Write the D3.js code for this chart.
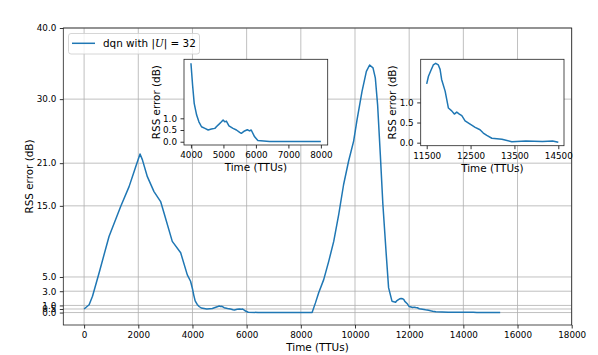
<!DOCTYPE html>
<html>
<head>
<meta charset="utf-8">
<script src="https://cdn.jsdelivr.net/npm/d3@7"></script>
<style>
body { margin: 0; background: #fff; }
text { font-family: "DejaVu Sans", sans-serif; fill: #000; }
</style>
</head>
<body>
<script>
// RSS error over time, one run of dqn with |U| = 32
var times = [0, 185, 310, 555, 920, 1350, 1660, 1905, 2065, 2150, 2335, 2580, 2825, 2950, 3255, 3565, 3810, 3930,
  4000, 4050, 4100, 4175, 4245, 4325, 4430, 4530, 4630, 4735, 4835, 4940, 4990, 5040, 5090, 5170, 5295, 5400,
  5500, 5550, 5650, 5735, 5805, 5855, 5960, 6060, 6420, 7000, 8000, 8417, 8540, 8660, 8845, 9030, 9215, 9400,
  9580, 9765, 9950, 10075, 10260, 10420, 10540, 10665, 10750, 10835, 10935, 11030, 11155, 11240, 11365, 11500,
  11540, 11590, 11650, 11705, 11765, 11805, 11840, 11920, 11995, 12070, 12130, 12185, 12245, 12300, 12375, 12490,
  12605, 12715, 12790, 12870, 12985, 13215, 13440, 13760, 14140, 14370, 14500, 15360];
var rss = [0.5, 1.1, 2.3, 5.6, 10.7, 14.9, 17.7, 20.5, 22.3, 21.5, 19.1, 17.0, 15.6, 14.0, 10.0, 8.4, 5.3, 4.4,
  3.35, 2.42, 1.64, 1.14, 0.85, 0.64, 0.57, 0.50, 0.54, 0.57, 0.71, 0.85, 0.93, 0.85, 0.88, 0.68, 0.57, 0.50,
  0.40, 0.36, 0.46, 0.51, 0.46, 0.50, 0.21, 0.05, 0.01, 0.01, 0.01, 0.02, 1.36, 2.77, 4.63, 7.2, 10.0, 13.8,
  18.0, 21.3, 24.1, 27.1, 31.1, 33.9, 34.8, 34.4, 33.0, 29.2, 22.2, 15.2, 8.1, 3.5, 1.6, 1.46,
  1.65, 1.78, 1.93, 1.97, 1.93, 1.82, 1.57, 1.28, 0.86, 0.79, 0.71, 0.76, 0.71, 0.67, 0.54, 0.46,
  0.38, 0.32, 0.24, 0.18, 0.11, 0.085, 0.025, 0.04, 0.03, 0.04, 0.01, 0.01];
var xTicks = [0, 2000, 4000, 6000, 8000, 10000, 12000, 14000, 16000, 18000];
var yTicks = [0.0, 0.5, 1.0, 3.0, 5.0, 15.0, 21.0, 30.0, 40.0];
var inset1Ticks = [4000, 5000, 6000, 7000, 8000];
var inset2Ticks = [11500, 12500, 13500, 14500];
var insetYTicks = [0.0, 0.5, 1.0];

var data = times.map(function(t, i) { return {t: t, v: rss[i]}; });
var blue = "#1f77b4";

var svg = d3.select("body").append("svg")
  .attr("width", 598)
  .attr("height", 355);

function drawAxes(box, xDomain, yDomain, xt, yt, grid) {
  var x = d3.scaleLinear().domain(xDomain).range([box.x0, box.x1]);
  var y = d3.scaleLinear().domain(yDomain).range([box.y1, box.y0]);
  var g = svg.append("g");
  g.append("rect")
    .attr("x", box.x0).attr("y", box.y0)
    .attr("width", box.x1 - box.x0).attr("height", box.y1 - box.y0)
    .attr("fill", "#fff");
  if (grid) {
    g.selectAll(".vg").data(xt).enter().append("line")
      .attr("x1", x).attr("x2", x).attr("y1", box.y0).attr("y2", box.y1)
      .attr("stroke", "#b0b0b0").attr("stroke-width", 0.8);
    g.selectAll(".hg").data(yt).enter().append("line")
      .attr("y1", y).attr("y2", y).attr("x1", box.x0).attr("x2", box.x1)
      .attr("stroke", "#b0b0b0").attr("stroke-width", 0.8);
  }
  var clipId = "clip" + Math.round(box.x0);
  g.append("clipPath").attr("id", clipId).append("rect")
    .attr("x", box.x0).attr("y", box.y0)
    .attr("width", box.x1 - box.x0).attr("height", box.y1 - box.y0);
  var pts = data.filter(function(d) { return d.t >= xt[0] && d.t <= xt[xt.length - 1]; });
  if (grid) pts = data;
  g.append("path")
    .datum(pts)
    .attr("clip-path", "url(#" + clipId + ")")
    .attr("fill", "none")
    .attr("stroke", blue)
    .attr("stroke-width", 1.5)
    .attr("stroke-linejoin", "round")
    .attr("d", d3.line().x(function(d) { return x(d.t); }).y(function(d) { return y(d.v); }));

  var xa = g.append("g")
    .attr("transform", "translate(0," + box.y1 + ")")
    .call(d3.axisBottom(x).tickValues(xt).tickFormat(d3.format("d")).tickSize(3.5).tickPadding(3.5));
  var ya = g.append("g")
    .attr("transform", "translate(" + box.x0 + ",0)")
    .call(d3.axisLeft(y).tickValues(yt).tickFormat(d3.format(".1f")).tickSize(3.5).tickPadding(3.5));
  [xa, ya].forEach(function(a) {
    a.select(".domain").remove();
    a.selectAll("line").attr("stroke", "#000").attr("stroke-width", 0.8);
    a.selectAll("text").style("font-size", "8.8px").style("font-family", "DejaVu Sans");
  });
  g.append("rect")
    .attr("x", box.x0).attr("y", box.y0)
    .attr("width", box.x1 - box.x0).attr("height", box.y1 - box.y0)
    .attr("fill", "none").attr("stroke", "#222").attr("stroke-width", 0.8);

  g.append("text")
    .attr("x", (box.x0 + box.x1) / 2).attr("y", box.y1 + 26)
    .attr("text-anchor", "middle").style("font-size", "10.4px")
    .text("Time (TTUs)");
  g.append("text")
    .attr("transform", "translate(" + box.ylab + "," + (box.y0 + box.y1) / 2 + ") rotate(-90)")
    .attr("text-anchor", "middle").style("font-size", "10.4px")
    .text("RSS error (dB)");
  return g;
}

drawAxes({x0: 63.3, x1: 571.7, y0: 28, y1: 325, ylab: 32.5}, [-768, 18000], [-1.75, 40], xTicks, yTicks, true);

// legend
var leg = svg.append("g");
leg.append("rect")
  .attr("x", 68.5).attr("y", 33.5).attr("width", 131).attr("height", 20.5).attr("rx", 2.5)
  .attr("fill", "#fff").attr("fill-opacity", 0.8).attr("stroke", "#ccc").attr("stroke-width", 0.8);
leg.append("line")
  .attr("x1", 72).attr("x2", 95).attr("y1", 43.3).attr("y2", 43.3)
  .attr("stroke", blue).attr("stroke-width", 1.5);
var lt = leg.append("text").attr("x", 103).attr("y", 47).style("font-size", "10.4px");
lt.append("tspan").text("dqn with |");
lt.append("tspan").style("font-family", "DejaVu Serif").style("font-style", "italic").text("U");
lt.append("tspan").text("| = 32");

drawAxes({x0: 184, x1: 327.7, y0: 59.3, y1: 145, ylab: 160}, [3786, 8210], [-0.14, 3.52], inset1Ticks, insetYTicks, false);
drawAxes({x0: 420.7, x1: 564, y0: 59.3, y1: 145.7, ylab: 396}, [11363, 14630], [-0.075, 2.07], inset2Ticks, insetYTicks, false);
</script>
</body>
</html>
